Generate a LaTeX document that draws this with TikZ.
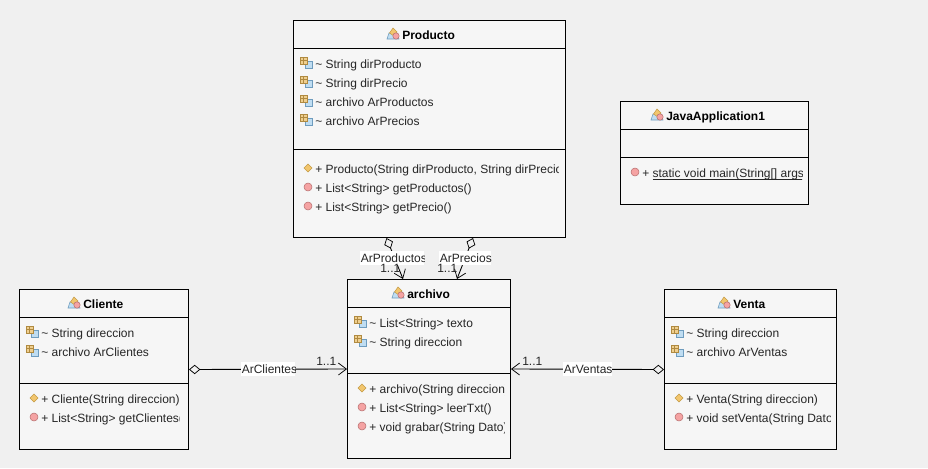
\documentclass[tikz,border=0pt]{standalone}
\usepackage{fontspec}
\setmainfont{Liberation Sans}
\usetikzlibrary{arrows.meta,calc,fit}
\definecolor{bgc}{HTML}{F0F0F0}
\definecolor{boxc}{HTML}{F6F6F6}
\definecolor{tanf}{HTML}{EFCF8F}
\definecolor{tand}{HTML}{B08A40}
\definecolor{bluef}{HTML}{BFDDF2}
\definecolor{blued}{HTML}{6E9CBE}
\definecolor{pinkf}{HTML}{F5A3A3}
\definecolor{pinkd}{HTML}{B87070}
\definecolor{orf}{HTML}{F2C66E}
\definecolor{ord}{HTML}{C49A45}
\newcounter{mc}
\tikzset{
  umlbox/.style={draw=black,fill=boxc,line width=0.75pt,inner sep=0pt,rectangle},
  divider/.style={draw=black,line width=0.75pt},
  rowtext/.style={anchor=base west,inner sep=0pt,font=\fontsize{9}{10}\selectfont,text=black!85},
  titletext/.style={anchor=base west,inner sep=0pt,font=\fontsize{9}{10}\selectfont\bfseries},
  conn/.style={draw=black,line width=0.65pt},
  assoc/.style={conn,{Diamond[open,length=8.5pt,width=7pt,line width=0.55pt]}-{Straight Barb[length=6pt,width=9pt,line width=0.55pt]}},
  lab/.style={anchor=base west,inner sep=0pt,font=\fontsize{9}{10}\selectfont,text=black!85},
  mult/.style={anchor=base west,inner sep=0pt,font=\fontsize{9}{10}\selectfont,text=black!85}
}
\newcommand{\ficon}[2]{%
  \fill[bluef,draw=blued,line width=0.45pt] (#1-1,#2-2) rectangle (#1+6,#2+5);
  \fill[tanf,draw=tand,line width=0.45pt] (#1-6,#2-6) rectangle (#1+1,#2+1);
  \draw[tand,line width=0.3pt] (#1-2.5,#2-6) -- (#1-2.5,#2+1) (#1-6,#2-2.5) -- (#1+1,#2-2.5);}
\newcommand{\micon}[2]{%
  \fill[pinkf,draw=pinkd,line width=0.4pt] (#1,#2) circle[radius=4];}
\newcommand{\cicon}[2]{%
  \fill[orf,draw=ord,line width=0.4pt] (#1-4,#2) -- (#1,#2-4) -- (#1+4,#2) -- (#1,#2+4) -- cycle;}
\newcommand{\classicon}[2]{%
  \fill[bluef,draw=blued,line width=0.4pt] (#1-6,#2+5) -- (#1-4,#2-1) -- (#1+4,#2-1) -- (#1+6,#2+5) -- cycle;
  \fill[orf,draw=ord,line width=0.4pt] (#1-3.5,#2-1) -- (#1,#2-6) -- (#1+4,#2-2) -- (#1+1,#2+2) -- cycle;
  \fill[pinkf,draw=pinkd,line width=0.4pt] (#1+3,#2+2) circle[radius=3.2];}
\newcommand{\rowclip}[4]{%
  \stepcounter{mc}%
  \begin{scope}
    \clip (#1-2,#2-9) rectangle (#3,#2+9);
    \node[rowtext] (row\themc) at (#1,#2+5) {#4};
  \end{scope}}
\newcommand{\fieldrow}[4]{\ficon{#1}{#2}\rowclip{#1+9}{#2}{#3}{#4}}
\newcommand{\methodrow}[4]{\micon{#1}{#2}\rowclip{#1+7}{#2}{#3}{#4}}
\newcommand{\ctorrow}[4]{\cicon{#1}{#2}\rowclip{#1+7}{#2}{#3}{#4}}
\newcommand{\classtitle}[4]{\classicon{#1}{#2}\node[titletext] (#3) at (#1+9,#2+5) {#4};}
\newcommand{\cliplab}[5]{%
  \fill[white] (#2,#4-7) rectangle (#3,#4+7);
  \begin{scope}
    \clip (#2,#4-7) rectangle (#3,#4+7);
    \node[lab] (#1) at (#2+0.5,#4+4) {#5};
  \end{scope}}
\begin{document}
\begin{tikzpicture}[x=0.75pt,y=-0.75pt]
\fill[bgc] (0,0) rectangle (928,468);
\useasboundingbox (0,0) rectangle (928,468);

% boxes
\node[umlbox,fit={(293.5,20.5)(565.5,237.5)}] (producto) {};
\node[umlbox,fit={(620.5,101.5)(808.5,204.5)}] (javaapp) {};
\node[umlbox,fit={(347.5,279.5)(510.5,458.5)}] (archivo) {};
\node[umlbox,fit={(19.5,289.5)(188.5,449.5)}] (cliente) {};
\node[umlbox,fit={(664.5,289.5)(836.5,449.5)}] (venta) {};

% dividers
\draw[divider] (293.5,48.5) -- (565.5,48.5) (293.5,149.5) -- (565.5,149.5);
\draw[divider] (620.5,129.5) -- (808.5,129.5) (620.5,157.5) -- (808.5,157.5);
\draw[divider] (347.5,307.5) -- (510.5,307.5) (347.5,373.5) -- (510.5,373.5);
\draw[divider] (19.5,317.5) -- (188.5,317.5) (19.5,383.5) -- (188.5,383.5);
\draw[divider] (664.5,317.5) -- (836.5,317.5) (664.5,383.5) -- (836.5,383.5);

% Producto
\classtitle{393}{34}{tprod}{Producto}
\fieldrow{306}{63}{558}{\char`~\ String dirProducto}
\fieldrow{306}{82}{558}{\char`~\ String dirPrecio}
\fieldrow{306}{101}{558}{\char`~\ archivo ArProductos}
\fieldrow{306}{120}{558}{\char`~\ archivo ArPrecios}
\ctorrow{308}{168}{558}{+ Producto(String dirProducto, String dirPrecio)}
\methodrow{308}{187}{558}{+ List<String> getProductos()}
\methodrow{308}{206}{558}{+ List<String> getPrecio()}

% JavaApplication1
\classtitle{657}{115}{tjava}{JavaApplication1}
\methodrow{635}{172}{802}{+ \underline{\smash{static void main(String[] args)}}}

% archivo
\classtitle{398}{293}{tarch}{archivo}
\fieldrow{360}{322}{504}{\char`~\ List<String> texto}
\fieldrow{360}{341}{504}{\char`~\ String direccion}
\ctorrow{362}{388}{504}{+ archivo(String direccion)}
\methodrow{362}{407}{504}{+ List<String> leerTxt()}
\methodrow{362}{426}{504}{+ void grabar(String Dato)}

% Cliente
\classtitle{74}{303}{tcli}{Cliente}
\fieldrow{32}{332}{181}{\char`~\ String direccion}
\fieldrow{32}{351}{181}{\char`~\ archivo ArClientes}
\ctorrow{34}{398}{182}{+ Cliente(String direccion)}
\methodrow{34}{417}{179.5}{+ List<String> getClientes()}

% Venta
\classtitle{724}{303}{tven}{Venta}
\fieldrow{677}{332}{830}{\char`~\ String direccion}
\fieldrow{677}{351}{830}{\char`~\ archivo ArVentas}
\ctorrow{679}{398}{830}{+ Venta(String direccion)}
\methodrow{679}{417}{830}{+ void setVenta(String Dato)}

% connectors
\coordinate (pa) at ($(producto.south)+(-43,0)$);
\coordinate (pb) at ($(producto.south)+(43.5,0)$);
\coordinate (aa) at ($(archivo.north)+(-26,0)$);
\coordinate (ab) at ($(archivo.north)+(28,0)$);
\draw[assoc] (pa) -- (aa);
\draw[assoc] (pb) -- (ab);
\draw[assoc] (cliente.east) -- (archivo.west);
\draw[assoc] (venta.west) -- (archivo.east);

% labels
\cliplab{lprod}{360}{424}{258}{ArProductos}
\cliplab{lprec}{439}{491}{258}{ArPrecios}
\cliplab{lcli}{241}{295}{369}{ArClientes}
\cliplab{lven}{563}{612}{369}{ArVentas}
\node[mult] (m1) at (380,272) {1..1};
\node[mult] (m2) at (437,272) {1..1};
\node[mult] (m3) at (316,365) {1..1};
\node[mult] (m4) at (522,365) {1..1};
\end{tikzpicture}
\end{document}
